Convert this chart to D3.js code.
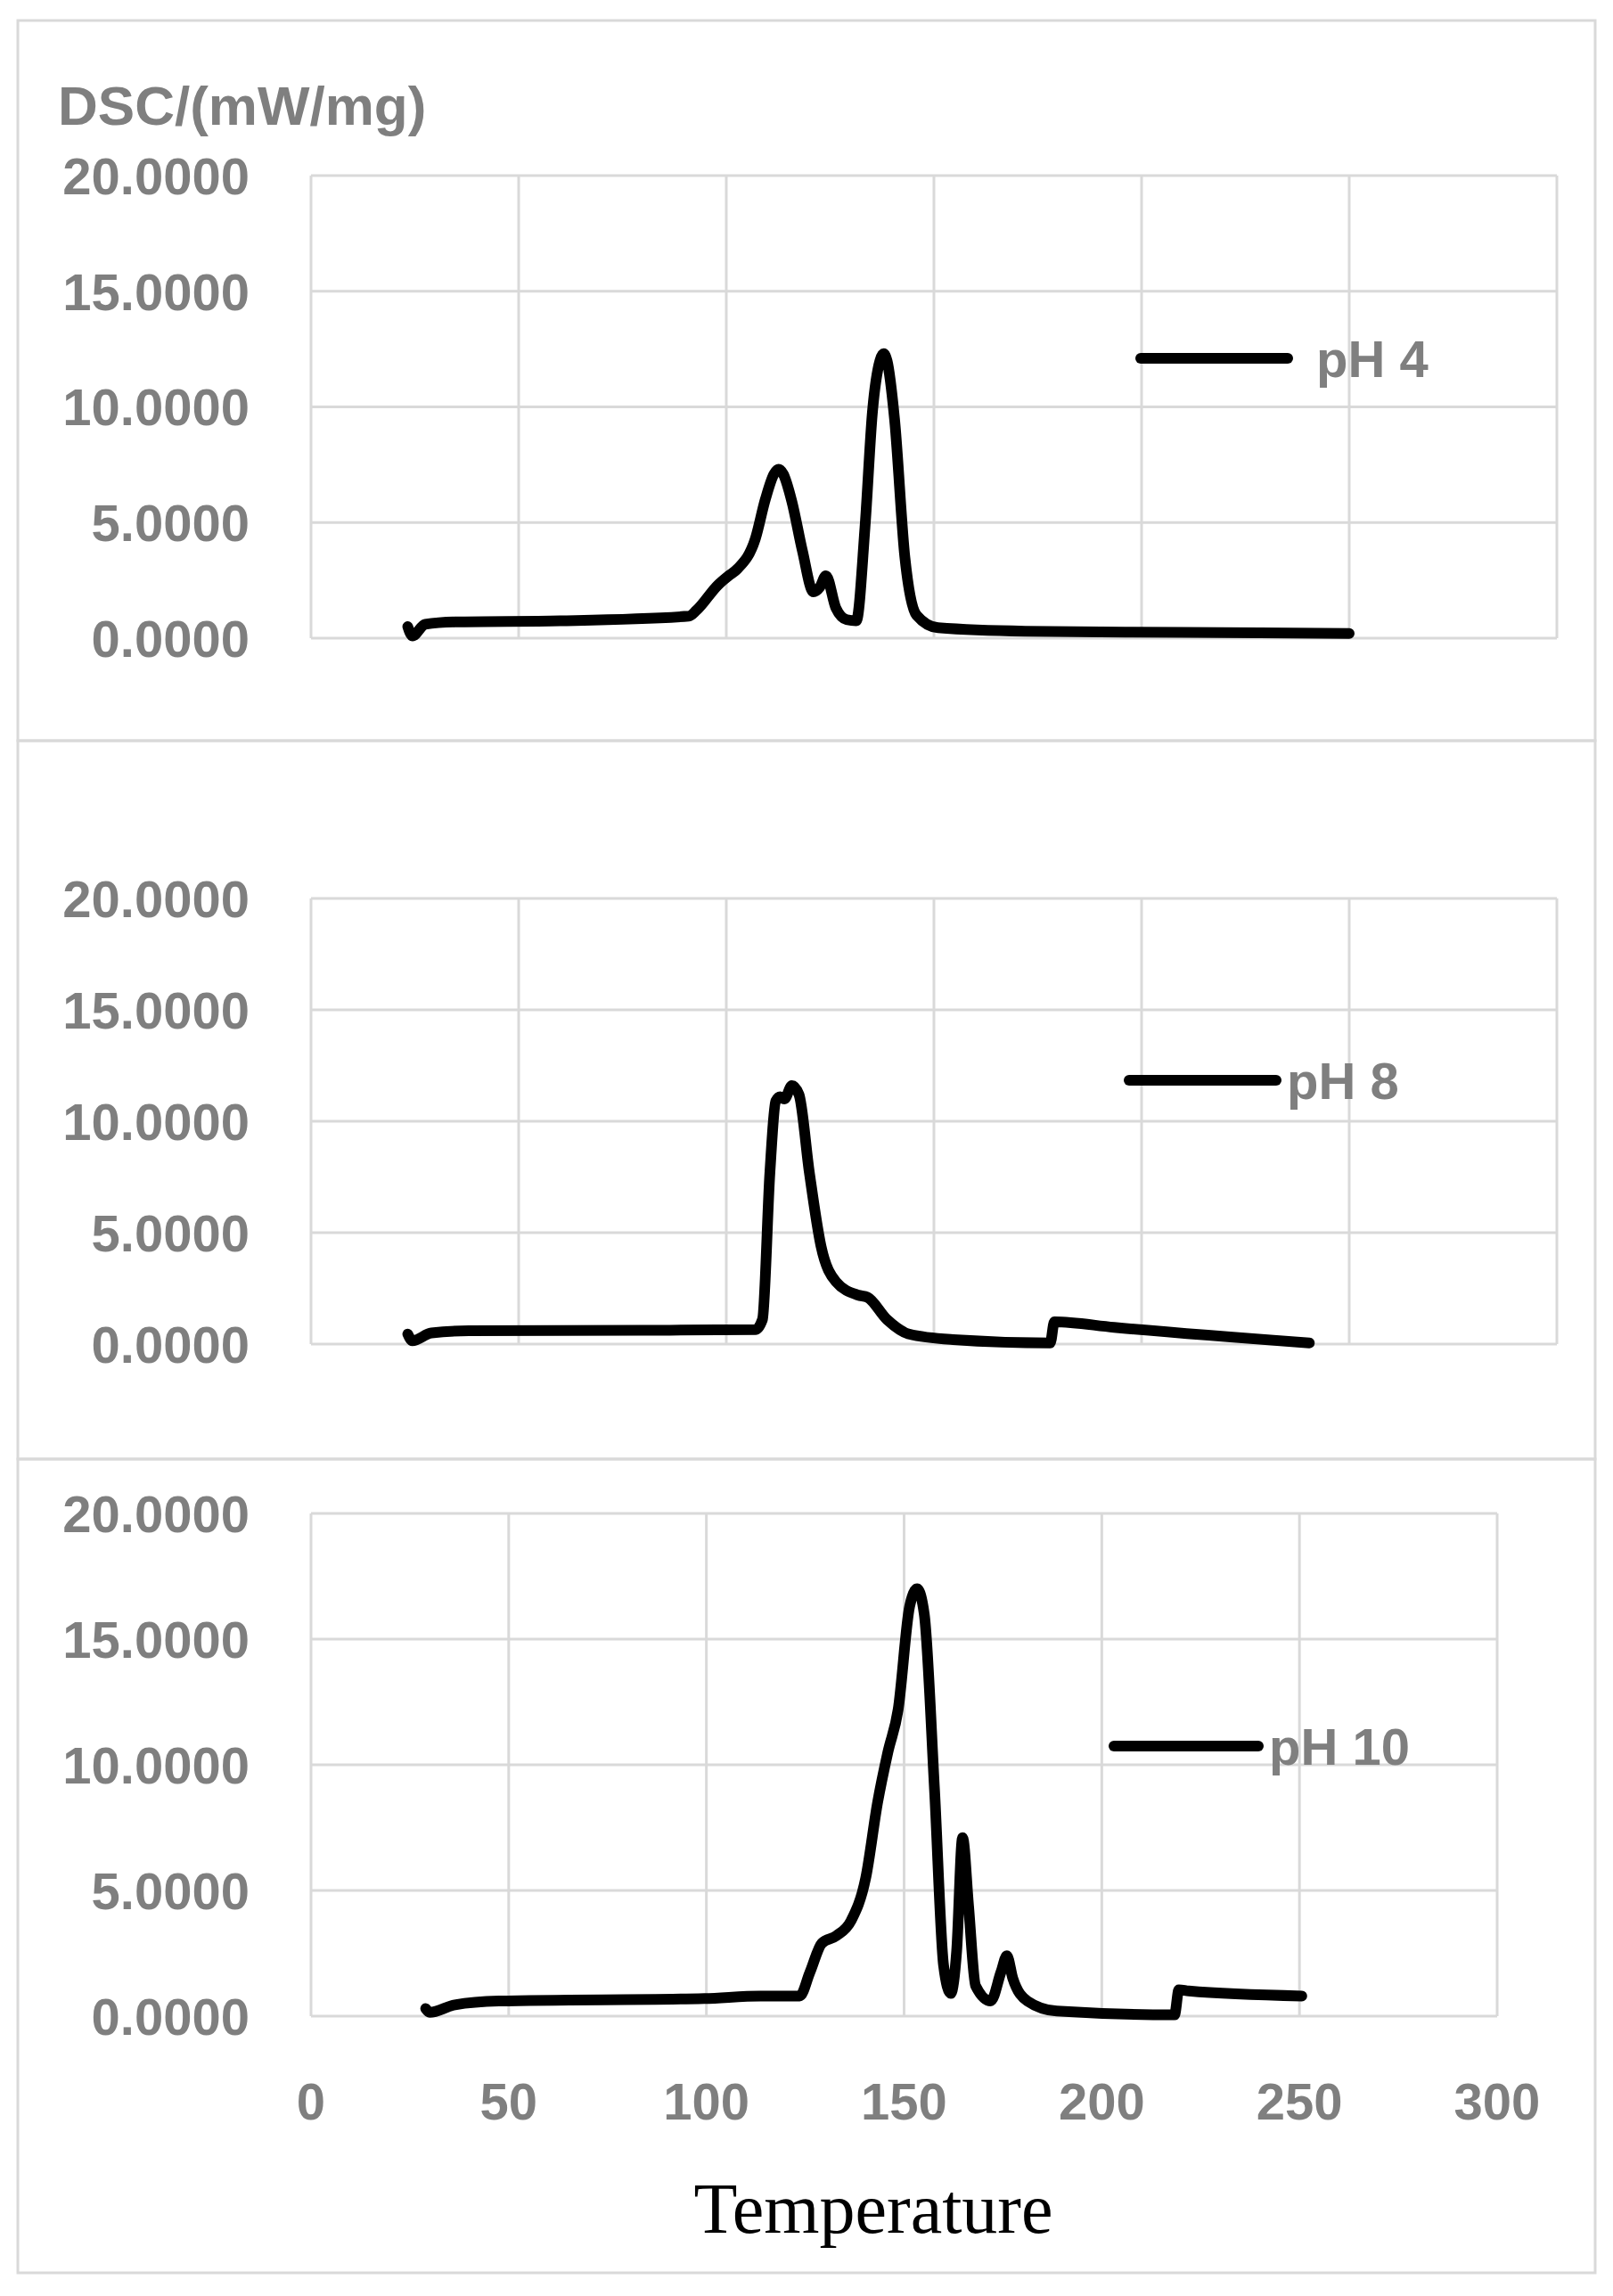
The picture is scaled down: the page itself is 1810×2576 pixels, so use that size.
<!DOCTYPE html>
<html><head><meta charset="utf-8">
<script src="https://cdn.jsdelivr.net/npm/d3@7"></script>
<style>body{margin:0;background:#fff}</style>
</head><body>
<svg id="chart" width="1810" height="2576"></svg>
<script>
// values: [temperature, DSC mW/mg]
const ph4 = [[23.3,0.5],[24.4,0.1],[27.5,0.6],[34.6,0.7],[60,0.75],[91,0.95],[92.8,1.2],[98,2.3],[100.6,2.7],[102.7,3.0],[107,4.3],[109.4,6.0],[111.5,7.1],[112.6,7.3],[113.7,7.1],[115.8,5.9],[118.3,3.8],[121,2.0],[122.5,2.2],[124,2.7],[126.4,1.3],[129,0.8],[131.3,0.75],[133.4,4.8],[135.2,9.8],[137,12.0],[137.9,12.3],[138.7,12.0],[140.5,9.5],[143,3.5],[145.8,1.0],[151,0.45],[172,0.3],[210,0.25],[250,0.2]]
const ph8 = [[23.3,0.45],[24.4,0.15],[29,0.5],[38,0.6],[80,0.62],[107,0.65],[108.7,1.1],[110.5,7.7],[111.9,10.9],[113,11.1],[114,11.0],[115.8,11.6],[117.5,11.2],[120,7.7],[122.8,4.4],[126.4,2.8],[131.7,2.2],[134,2.1],[138.7,1.1],[144,0.45],[154.6,0.2],[178,0.05],[179,1.0],[193.4,0.75],[240.4,0.05]]
const ph10 = [[29,0.3],[30,0.15],[36.4,0.45],[47.5,0.6],[99.5,0.7],[113.6,0.8],[123.6,0.8],[126.2,1.75],[129.2,2.9],[132.9,3.2],[136.6,3.8],[140.3,5.5],[143.3,8.5],[145.9,10.5],[148.5,12.2],[151.4,16.3],[153.3,17.0],[155.1,16.0],[157.7,9.0],[160,2.0],[161.8,0.9],[163.3,2.6],[164.8,7.1],[166.3,4.4],[168.1,1.2],[171.9,0.6],[174.5,1.75],[176,2.4],[177.5,1.5],[181.2,0.6],[188.6,0.2],[218.4,0.05],[219.5,1.05],[222,1.0],[250.6,0.8]]
const yTicks = [0, 5, 10, 15, 20]
const xTicks = [0, 50, 100, 150, 200, 250, 300]

const panels = [
  {name: 'pH 4', data: ph4, box: [23, 831], plot: [349, 1747, 197, 716], leg: [1280, 1445, 402]},
  {name: 'pH 8', data: ph8, box: [831, 1637], plot: [349, 1747, 1008, 1508], leg: [1267, 1432, 1212]},
  {name: 'pH 10', data: ph10, box: [1637, 2550], plot: [349, 1680, 1698, 2262], leg: [1250, 1412, 1959]},
]

const svg = d3.select('#chart')
const grid = '#d9d9d9'
const gray = '#7f7f7f'
const font = 'Liberation Sans, Arial, sans-serif'

panels.forEach((p, i) => {
  const [x0, x1, y0, y1] = p.plot
  const x = d3.scaleLinear().domain([0, 300]).range([x0, x1])
  const y = d3.scaleLinear().domain([0, 20]).range([y1, y0])
  const g = svg.append('g')

  g.append('rect').attr('x', 20).attr('y', p.box[0]).attr('width', 1770)
    .attr('height', p.box[1] - p.box[0]).attr('fill', 'none')
    .attr('stroke', grid).attr('stroke-width', 3)

  g.selectAll('.hg').data(yTicks).join('line')
    .attr('x1', x0).attr('x2', x1).attr('y1', d => y(d)).attr('y2', d => y(d))
    .attr('stroke', grid).attr('stroke-width', 3)
  g.selectAll('.vg').data(xTicks).join('line')
    .attr('x1', d => x(d)).attr('x2', d => x(d)).attr('y1', y0).attr('y2', y1)
    .attr('stroke', grid).attr('stroke-width', 3)

  g.selectAll('.yl').data(yTicks).join('text')
    .attr('x', 280).attr('y', d => y(d)).attr('dy', '0.36em')
    .attr('text-anchor', 'end').attr('font-family', font).attr('font-weight', 'bold')
    .attr('font-size', 58).attr('fill', gray)
    .text(d => d.toFixed(4))

  if (i === 2) {
    g.selectAll('.xl').data(xTicks).join('text')
      .attr('x', d => x(d)).attr('y', 2357).attr('dy', '0.36em')
      .attr('text-anchor', 'middle').attr('font-family', font).attr('font-weight', 'bold')
      .attr('font-size', 58).attr('fill', gray).text(d => d)
  }

  const line = d3.line().x(d => x(d[0])).y(d => y(d[1])).curve(d3.curveMonotoneX)
  g.append('path').datum(p.data).attr('d', line).attr('fill', 'none')
    .attr('stroke', '#000').attr('stroke-width', 12)
    .attr('stroke-linejoin', 'round').attr('stroke-linecap', 'round')

  const [lx0, lx1, ly] = p.leg
  g.append('line').attr('x1', lx0).attr('x2', lx1).attr('y1', ly).attr('y2', ly)
    .attr('stroke', '#000').attr('stroke-width', 12).attr('stroke-linecap', 'round')
  g.append('text').attr('x', lx1 + (i === 0 ? 32 : 12)).attr('y', ly).attr('dy', '0.36em')
    .attr('font-family', font).attr('font-weight', 'bold').attr('font-size', 58)
    .attr('fill', gray).text(p.name)
})

svg.append('text').attr('x', 65).attr('y', 118).attr('dy', '0.36em')
  .attr('font-family', font).attr('font-weight', 'bold').attr('font-size', 62)
  .attr('fill', gray).text('DSC/(mW/mg)')

svg.append('text').attr('x', 980).attr('y', 2476).attr('dy', '0.36em')
  .attr('text-anchor', 'middle').attr('font-family', 'Liberation Serif, serif')
  .attr('font-size', 80).attr('fill', '#000').text('Temperature')
</script>
</body></html>
